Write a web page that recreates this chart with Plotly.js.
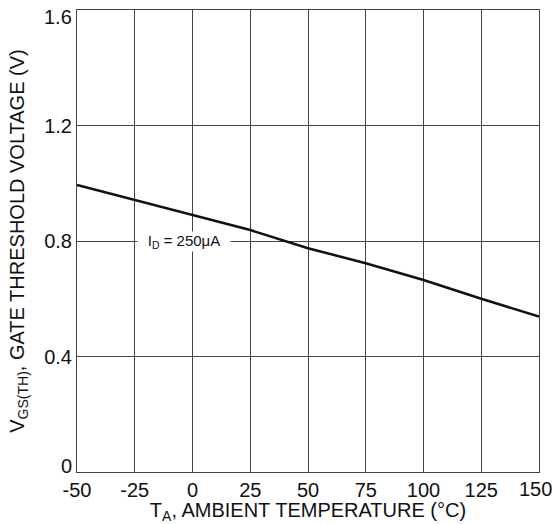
<!DOCTYPE html>
<html>
<head>
<meta charset="utf-8">
<script src="https://cdn.plot.ly/plotly-3.0.1.min.js"></script>
<style>html,body{margin:0;padding:0;background:#fff;}#chart{width:554px;height:524px;}</style>
</head>
<body>
<div id="chart"></div>
<script>
var temperature = [-50, -25, 0, 25, 50, 75, 100, 125, 150];
var vgsth = [0.994, 0.942, 0.890, 0.838, 0.775, 0.723, 0.665, 0.600, 0.538];
var xTicks = [-50, -25, 0, 25, 50, 75, 100, 125, 150];
var xTickLabels = ['-50', '-25', '0', '25', '50', '75', '100', '125', '150'];
var yTicks = [0, 0.4, 0.8, 1.2, 1.6];
var yTickLabels = ['0', '0.4', '0.8', '1.2', '1.6'];
var seriesLabel = 'I<sub>D</sub> = 250μA';

var font = 'Liberation Sans, Arial, sans-serif';
var tickFont = {size: 20, family: font, color: '#111'};

// end labels are nudged inward in the reference, so they are drawn as annotations
var xLast = xTicks.length - 1, yLast = yTicks.length - 1;
var xTickText = xTickLabels.map(function (t, i) { return i === xLast ? '' : t; });
var yTickText = yTickLabels.map(function (t, i) { return (i === 0 || i === yLast) ? '' : t; });

var data = [{
  x: temperature, y: vgsth, type: 'scatter', mode: 'lines',
  line: {color: '#111', width: 2.5}, hoverinfo: 'skip'
}];
var layout = {
  width: 554, height: 524,
  margin: {l: 77, r: 15, t: 10, b: 52},
  paper_bgcolor: '#fff', plot_bgcolor: '#fff',
  showlegend: false,
  font: {family: font, color: '#111', size: 20},
  xaxis: {
    range: [-50, 150], tickvals: xTicks, ticktext: xTickText,
    showgrid: true, gridcolor: '#444', gridwidth: 1,
    zeroline: false, showline: true, linecolor: '#444', linewidth: 1, mirror: true,
    ticks: '', ticklen: 0, tickfont: tickFont, ticklabeloverflow: 'allow',
    title: {text: 'T<sub>A</sub>, AMBIENT TEMPERATURE (°C)', font: {size: 20, family: font, color: '#111'}, standoff: 4}
  },
  yaxis: {
    range: [0, 1.6], tickvals: yTicks, ticktext: yTickText,
    showgrid: true, gridcolor: '#444', gridwidth: 1,
    zeroline: false, showline: true, linecolor: '#444', linewidth: 1, mirror: true,
    ticks: '', ticklen: 0, tickfont: tickFont, ticklabeloverflow: 'allow',
    title: {text: 'V<sub>GS(TH)</sub>, GATE THRESHOLD VOLTAGE (V)', font: {size: 20, family: font, color: '#111'}, standoff: 14}
  },
  annotations: [
    {x: -3.5, y: 0.8, xref: 'x', yref: 'y', text: seriesLabel, showarrow: false,
     bgcolor: '#fff', font: {size: 15, family: font, color: '#111'}, borderpad: 0, width: 92},
    {x: 0, y: yTicks[0], xref: 'paper', yref: 'y', text: yTickLabels[0], showarrow: false,
     xanchor: 'right', yanchor: 'middle', xshift: -4, yshift: 6, font: tickFont, borderpad: 0},
    {x: 0, y: yTicks[yLast], xref: 'paper', yref: 'y', text: yTickLabels[yLast], showarrow: false,
     xanchor: 'right', yanchor: 'middle', xshift: -4, yshift: -7, font: tickFont, borderpad: 0},
    {x: xTicks[xLast], y: 0, xref: 'x', yref: 'paper', text: xTickLabels[xLast], showarrow: false,
     xanchor: 'center', yanchor: 'top', xshift: -4, yshift: -5, font: tickFont, borderpad: 0}
  ]
};
Plotly.newPlot('chart', data, layout, {staticPlot: true, displayModeBar: false});
</script>
</body>
</html>
